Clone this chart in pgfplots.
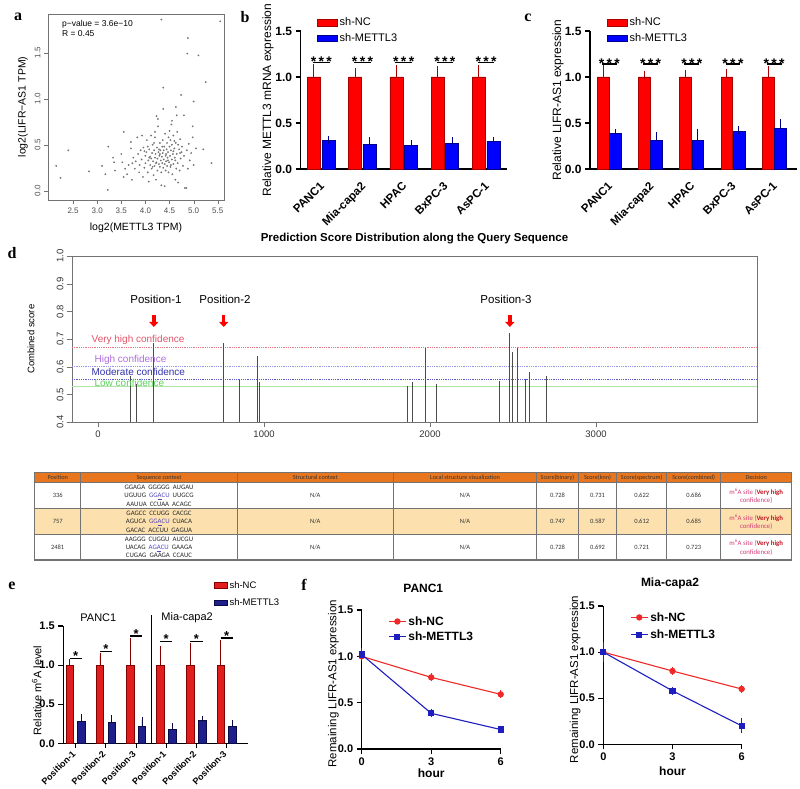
\documentclass[border=0pt]{standalone}
\usepackage{pgfplots}
\usepackage{pgfplotstable}
\pgfplotsset{compat=1.18}
\usepackage{fontspec}
\setmainfont{Liberation Sans}
\newfontfamily\serifbf{Liberation Serif}
\newfontfamily\calib{Carlito}
\usetikzlibrary{arrows.meta}
\newcommand{\fs}[1]{\fontsize{#1}{#1}\selectfont}
\definecolor{bred}{RGB}{255,0,0}
\definecolor{bredd}{RGB}{170,0,0}
\definecolor{bblue}{RGB}{0,0,255}
\definecolor{bblued}{RGB}{0,0,140}
\definecolor{ered}{RGB}{225,30,30}
\definecolor{eredd}{RGB}{130,0,0}
\definecolor{eblue}{RGB}{30,30,140}
\definecolor{ebluedd}{RGB}{10,10,70}
\definecolor{fred}{RGB}{240,40,40}
\definecolor{fblue}{RGB}{30,30,190}
\definecolor{vhc}{RGB}{225,85,105}
\definecolor{hcc}{RGB}{175,110,220}
\definecolor{mcc}{RGB}{50,50,170}
\definecolor{lcc}{RGB}{90,210,90}
\definecolor{vhl}{RGB}{230,120,130}
\definecolor{hcl}{RGB}{150,150,230}
\definecolor{mcl}{RGB}{90,90,200}
\definecolor{lcl}{RGB}{175,230,165}
\definecolor{torange}{RGB}{232,118,30}
\definecolor{tpeach}{RGB}{252,225,175}
\definecolor{seqblue}{RGB}{80,70,190}
\definecolor{dpink}{RGB}{210,60,120}
\definecolor{dred}{RGB}{190,20,30}

\pgfplotsset{
  every axis/.append style={/pgf/number format/assume math mode=true, scale only axis, anchor=south west},
  gp/.style={axis x line*=bottom, axis y line*=left, axis line style={line width=1.1pt,-},
    tick align=outside, major tick length=5pt, major tick style={line width=1.1pt, black},
    tick label style={font=\bfseries\fs{12}}, clip=false, legend cell align=left},
}

\pgfplotstableread{
x nc ncerr kd kderr
0 1.0 0.094 0.308 0.006
1 1.0 0.05 0.268 0.032
2 1.0 0.087 0.254 0.016
3 1.0 0.076 0.279 0.021
4 1.0 0.087 0.300 0.006
}\tabB
\pgfplotstableread{
x nc ncerr kd kderr
0 1.0 0.094 0.385 0.008
1 1.0 0.02 0.315 0.045
2 1.0 0.03 0.31 0.085
3 1.0 0.04 0.410 0.015
4 1.0 0.076 0.445 0.050
}\tabC
\pgfplotstableread{
x nc ncerr kd kderr
0 1 0.036 0.277 0.053
1 1 0.117 0.264 0.060
2 1 0.31 0.22 0.075
3 1 0.20 0.18 0.040
4 1 0.245 0.29 0.020
5 1 0.28 0.22 0.042
}\tabE
\pgfplotstableread{
pos score
193 0.567
234 0.537
336 0.686
757 0.685
849 0.552
962 0.640
973 0.547
1863 0.532
1896 0.544
1971 0.667
2038 0.537
2417 0.548
2481 0.723
2495 0.655
2528 0.668
2574 0.556
2598 0.583
2700 0.567
}\tabD

\begin{document}
\begin{tikzpicture}[x=1pt,y=1pt]
\path[use as bounding box] (0pt,0pt) rectangle (800pt,788pt);

% panel letters
\node[font=\serifbf\bfseries\fs{16}] at (18pt,771pt) {a};
\node[font=\serifbf\bfseries\fs{16}] at (245pt,771pt) {b};
\node[font=\serifbf\bfseries\fs{16}] at (528pt,770pt) {c};
\node[font=\serifbf\bfseries\fs{16}] at (12pt,535pt) {d};
\node[font=\serifbf\bfseries\fs{16}] at (12pt,202pt) {e};
\node[font=\serifbf\bfseries\fs{16}] at (304pt,203pt) {f};

% ---------------- a
\begin{axis}[at={(48pt,588pt)}, width=176pt, height=186pt,
  xmin=1.98, xmax=5.63, ymin=-0.10, ymax=1.92,
  axis line style={black!55},
  xtick={2.5,3,3.5,4,4.5,5,5.5}, xticklabels={2.5,3.0,3.5,4.0,4.5,5.0,5.5},
  ytick={0,0.5,1,1.5}, yticklabels={0.0,0.5,1.0,1.5},
  tick align=outside, xtick pos=bottom, ytick pos=left, major tick length=4pt,
  major tick style={black!55},
  yticklabel style={rotate=90, anchor=south},
  tick label style={font=\fs{8}, text=black!70},
  xlabel={log2(METTL3 TPM)}, ylabel={log2(LIFR−AS1 TPM)},
  label style={font=\fs{10.5}},
  xlabel style={at={(axis description cs:0.5,-0.15)}, anchor=center},
  ylabel style={at={(axis description cs:-0.142,0.5)}, anchor=center},
]
\addplot[only marks, mark=*, mark size=0.7pt, draw=black!55, fill=black!35] table {
2.15 0.27
2.24 0.14
2.40 0.44
2.83 0.21
3.10 0.27
3.17 0.18
3.22 0.01
3.23 0.48
3.33 0.36
3.35 0.31
3.37 0.22
3.50 0.40
3.52 0.31
3.55 0.64
3.55 0.15
3.58 0.24
3.62 0.18
3.65 0.28
3.70 0.53
3.70 0.46
3.72 0.12
3.73 0.30
3.75 0.36
3.78 0.24
3.80 0.32
3.83 0.58
3.85 0.40
3.87 0.20
3.88 0.28
3.90 0.44
3.92 0.34
3.93 0.60
3.95 0.15
3.96 0.47
3.98 0.25
3.98 0.43
4.00 0.38
4.00 0.30
4.02 0.42
4.03 0.55
4.05 0.20
4.05 0.48
4.06 0.33
4.07 0.10
4.08 0.45
4.08 0.36
4.10 0.28
4.10 0.37
4.12 0.60
4.12 0.35
4.13 0.24
4.14 0.41
4.15 0.50
4.15 0.26
4.16 0.32
4.17 0.17
4.18 0.44
4.18 0.52
4.19 0.27
4.20 0.36
4.20 0.58
4.20 0.64
4.21 0.40
4.22 0.12
4.22 0.30
4.23 0.31
4.23 0.81
4.24 0.47
4.25 0.22
4.25 0.35
4.26 0.70
4.26 0.78
4.27 0.42
4.28 0.29
4.28 0.45
4.29 0.38
4.30 0.52
4.30 0.26
4.30 0.40
4.31 0.44
4.32 0.33
4.33 0.06
4.33 0.20
4.33 1.86
4.34 0.37
4.35 0.30
4.35 0.48
4.36 0.55
4.36 0.41
4.37 0.25
4.37 0.89
4.37 1.12
4.38 0.34
4.38 0.44
4.39 0.48
4.40 0.29
4.40 0.05
4.41 0.62
4.42 0.38
4.42 0.22
4.43 0.32
4.43 0.40
4.44 0.45
4.45 0.52
4.45 0.27
4.46 0.36
4.47 0.42
4.47 0.33
4.48 0.58
4.48 0.20
4.49 0.31
4.50 0.48
4.50 0.65
4.51 0.38
4.52 0.55
4.52 0.26
4.53 0.44
4.53 0.28
4.54 0.72
4.55 0.34
4.55 0.50
4.55 0.76
4.56 0.18
4.57 0.40
4.58 0.60
4.58 0.29
4.58 0.43
4.60 0.46
4.60 0.54
4.61 0.36
4.62 0.12
4.62 0.33
4.63 0.52
4.63 0.91
4.64 0.24
4.65 0.40
4.65 0.82
4.66 0.64
4.67 0.30
4.68 0.09
4.68 0.50
4.70 0.45
4.71 0.22
4.72 0.56
4.72 0.41
4.73 0.35
4.74 1.04
4.75 0.42
4.76 0.48
4.78 0.27
4.80 0.38
4.80 0.82
4.82 0.03
4.85 0.03
4.86 0.44
4.87 1.49
4.88 0.24
4.88 1.66
4.90 0.51
4.92 0.33
4.95 0.41
4.98 0.58
4.98 0.70
5.00 0.28
5.00 0.97
5.05 0.46
5.10 1.47
5.20 0.45
5.25 1.18
5.37 0.30
5.55 1.84
};
\node[anchor=west, font=\fs{8.5}] at (axis description cs:0.06,0.946) {p−value = 3.6e−10};
\node[anchor=west, font=\fs{8.5}] at (axis description cs:0.06,0.895) {R = 0.45};
\end{axis}

% ---------------- b
\begin{axis}[gp, at={(300.7pt,619pt)}, width=206pt, height=138pt,
  xmin=-0.5, xmax=4.5, ymin=0, ymax=1.5,
  ytick={0,0.5,1,1.5}, yticklabels={0.0,0.5,1.0,1.5},
  xtick={0,...,4}, xticklabels={PANC1,Mia-capa2,HPAC,BxPC-3,AsPC-1},
  x tick style={draw=none},
  xticklabel style={rotate=45, anchor=north east, xshift=-3pt, font=\bfseries\fs{11.5}},
  ylabel={Relative METTL3 mRNA expression},
  ylabel style={at={(axis description cs:-0.159,0.5)}, anchor=center, font=\fs{12}},
  legend style={at={(0.078,1.11)}, anchor=north west, draw=none, fill=none, font=\fs{11}, row sep=2pt, inner sep=0pt, nodes={inner sep=2pt}},
  legend image code/.code={\draw[#1] (0pt,-3.3pt) rectangle (20pt,3.3pt);},
]
\addplot[ybar, bar width=13pt, bar shift=0pt, fill=bred, draw=bredd, line width=0.7pt,
  error bars/.cd, y dir=plus, y explicit, error bar style={line width=1pt, bredd},
  error mark options={mark size=4pt, line width=1pt, bredd}]
  table[x expr=\thisrow{x}-0.178, y=nc, y error=ncerr] {\tabB};
\addlegendentry{sh-NC}
\addplot[ybar, bar width=13pt, bar shift=0pt, fill=bblue, draw=bblued, line width=0.7pt,
  error bars/.cd, y dir=plus, y explicit, error bar style={line width=1pt, bblued},
  error mark options={mark size=4pt, line width=1pt, bblued}]
  table[x expr=\thisrow{x}+0.178, y=kd, y error=kderr] {\tabB};
\addlegendentry{sh-METTL3}
\addplot[black, line width=1.3pt, forget plot] coordinates {(-0.2,1.155) (0.2,1.155)};
\addplot[black, line width=1.3pt, forget plot] coordinates {(0.8,1.155) (1.2,1.155)};
\addplot[black, line width=1.3pt, forget plot] coordinates {(1.8,1.155) (2.2,1.155)};
\addplot[black, line width=1.3pt, forget plot] coordinates {(2.8,1.155) (3.2,1.155)};
\addplot[black, line width=1.3pt, forget plot] coordinates {(3.8,1.155) (4.2,1.155)};
\pgfplotsinvokeforeach{0,1,2,3,4}{\node[font=\bfseries\fs{14}, anchor=base] at (axis cs:#1,1.11) {*\,*\,*};}
\end{axis}

% ---------------- c
\begin{axis}[gp, at={(590pt,619pt)}, width=206.8pt, height=138pt,
  xmin=-0.47, xmax=4.55, ymin=0, ymax=1.5,
  ytick={0,0.5,1,1.5}, yticklabels={0.0,0.5,1.0,1.5},
  xtick={0,...,4}, xticklabels={PANC1,Mia-capa2,HPAC,BxPC-3,AsPC-1},
  x tick style={draw=none},
  xticklabel style={rotate=45, anchor=north east, xshift=-3pt, font=\bfseries\fs{11.5}},
  ylabel={Relative LIFR-AS1 expression},
  ylabel style={at={(axis description cs:-0.155,0.5)}, anchor=center, font=\fs{12}},
  legend style={at={(0.081,1.11)}, anchor=north west, draw=none, fill=none, font=\fs{11}, row sep=2pt, inner sep=0pt, nodes={inner sep=2pt}},
  legend image code/.code={\draw[#1] (0pt,-3.3pt) rectangle (20pt,3.3pt);},
]
\addplot[ybar, bar width=11.8pt, bar shift=0pt, fill=bred, draw=bredd, line width=0.7pt,
  error bars/.cd, y dir=plus, y explicit, error bar style={line width=1pt, bredd},
  error mark options={mark size=4pt, line width=1pt, bredd}]
  table[x expr=\thisrow{x}-0.146, y=nc, y error=ncerr] {\tabC};
\addlegendentry{sh-NC}
\addplot[ybar, bar width=11.8pt, bar shift=0pt, fill=bblue, draw=bblued, line width=0.7pt,
  error bars/.cd, y dir=plus, y explicit, error bar style={line width=1pt, bblued},
  error mark options={mark size=4pt, line width=1pt, bblued}]
  table[x expr=\thisrow{x}+0.146, y=kd, y error=kderr] {\tabC};
\addlegendentry{sh-METTL3}
\addplot[black, line width=1.3pt, forget plot] coordinates {(-0.18,1.14) (0.18,1.14)};
\addplot[black, line width=1.3pt, forget plot] coordinates {(0.82,1.14) (1.18,1.14)};
\addplot[black, line width=1.3pt, forget plot] coordinates {(1.82,1.14) (2.18,1.14)};
\addplot[black, line width=1.3pt, forget plot] coordinates {(2.82,1.14) (3.18,1.14)};
\addplot[black, line width=1.3pt, forget plot] coordinates {(3.82,1.14) (4.18,1.14)};
\pgfplotsinvokeforeach{0,1,2,3,4}{\node[font=\bfseries\fs{14}, anchor=base] at (axis cs:#1,1.095) {*\,*\,*};}
\end{axis}

% ---------------- d
\begin{axis}[at={(72pt,365.7pt)}, width=685pt, height=166.3pt,
  xmin=-157, xmax=3970, ymin=0.4, ymax=1.0,
  axis line style={black!55, line width=0.8pt},
  tick align=outside, xtick pos=bottom, ytick pos=left, major tick length=5pt,
  major tick style={black!55},
  xtick={0,1000,2000,3000}, xticklabels={0,1000,2000,3000},
  ytick={0.4,0.5,0.6,0.7,0.8,0.9,1.0}, yticklabels={0.4,0.5,0.6,0.7,0.8,0.9,1.0},
  yticklabel style={rotate=90, anchor=south},
  tick label style={font=\fs{9.5}, text=black!80},
  ylabel={Combined score}, ylabel style={at={(axis description cs:-0.06,0.5)}, anchor=center, font=\fs{9.5}},
  title={\bfseries Prediction Score Distribution along the Query Sequence},
  title style={font=\fs{11.5}, at={(axis description cs:0.5,1.066)}, anchor=center},
]
\addplot[vhl, line width=0.8pt, densely dotted] coordinates {(-157,0.671) (3970,0.671)};
\addplot[hcl, line width=0.8pt, densely dotted] coordinates {(-157,0.600) (3970,0.600)};
\addplot[mcl, line width=0.8pt, densely dotted] coordinates {(-157,0.556) (3970,0.556)};
\addplot[lcl, line width=1pt] coordinates {(-157,0.529) (3970,0.529)};
\addplot[ycomb, black!70, line width=0.9pt] table[x=pos, y=score] {\tabD};
\node[anchor=west, text=vhc, font=\fs{10}] at (axis cs:-60,0.697) {Very high confidence};
\node[anchor=west, text=hcc, font=\fs{10}] at (axis cs:-42,0.625) {High confidence};
\node[anchor=west, text=mcc, font=\fs{10}] at (axis cs:-60,0.583) {Moderate confidence};
\node[anchor=west, text=lcc, font=\fs{10}] at (axis cs:-42,0.543) {Low confidence};
\node[font=\fs{11.5}] at (axis cs:349,0.845) {Position-1};
\node[font=\fs{11.5}] at (axis cs:765,0.845) {Position-2};
\node[font=\fs{11.5}] at (axis cs:2458,0.845) {Position-3};
\draw[red, line width=3.5pt, -{Triangle[width=9pt,length=5pt]}] (axis cs:336,0.786) -- (axis cs:336,0.744);
\draw[red, line width=3.5pt, -{Triangle[width=9pt,length=5pt]}] (axis cs:757,0.786) -- (axis cs:757,0.744);
\draw[red, line width=3.5pt, -{Triangle[width=9pt,length=5pt]}] (axis cs:2481,0.786) -- (axis cs:2481,0.744);
\end{axis}

% ---------------- table
\fill[torange] (34.7pt,305.3pt) rectangle (791.7pt,315.3pt);
\fill[tpeach] (34.7pt,253.3pt) rectangle (791.7pt,279.3pt);
\foreach \yy in {305.3,279.3,253.3} \draw[black!55, line width=0.7pt] (34.7pt,\yy pt) -- (791.7pt,\yy pt);
\draw[black!55, line width=1.2pt] (34.7pt,228pt) rectangle (791.7pt,315.3pt);
\foreach \xx in {80.7,237.3,393.3,536.7,578.3,616.7,666.7,720.7} \draw[black!55, line width=1.2pt] (\xx pt,228pt) -- (\xx pt,315.3pt);
\begin{scope}[every node/.style={font=\calib\fs{6.2}, text=black!80}]
\node at (57.7pt,310.3pt) {Position};
\node at (159pt,310.3pt) {Sequence context};
\node at (315.3pt,310.3pt) {Structural context};
\node at (465pt,310.3pt) {Local structure visualization};
\node at (557.5pt,310.3pt) {Score(binary)};
\node at (597.5pt,310.3pt) {Score(knn)};
\node at (641.7pt,310.3pt) {Score(spectrum)};
\node at (693.7pt,310.3pt) {Score(combined)};
\node at (756.2pt,310.3pt) {Decision};
\end{scope}
\begin{scope}[every node/.style={font=\calib\fs{6.5}, text=black!80}]
\node at (57.7pt,292.3pt) {336};
\node at (57.7pt,266.3pt) {757};
\node at (57.7pt,240.7pt) {2481};
\foreach \yy in {292.3,266.3,240.7} {
  \node at (315.3pt,\yy pt) {N/A};
  \node at (465pt,\yy pt) {N/A};
}
\node at (557.5pt,292.3pt) {0.728}; \node at (597.5pt,292.3pt) {0.731}; \node at (641.7pt,292.3pt) {0.622}; \node at (693.7pt,292.3pt) {0.686};
\node at (557.5pt,266.3pt) {0.747}; \node at (597.5pt,266.3pt) {0.587}; \node at (641.7pt,266.3pt) {0.612}; \node at (693.7pt,266.3pt) {0.685};
\node at (557.5pt,240.7pt) {0.728}; \node at (597.5pt,240.7pt) {0.692}; \node at (641.7pt,240.7pt) {0.721}; \node at (693.7pt,240.7pt) {0.723};
\end{scope}
\begin{scope}[every node/.style={font=\calib\fontsize{6.8}{8.3}\selectfont, text=black!85, align=center, inner sep=0pt}]
\node at (159pt,292.3pt) {GGAGA\ \ GGGGG\ \ AUGAU\\UGUUG\ \ \textcolor{seqblue}{GG\underline{A}CU}\ \ UUGCG\\AAUUA\ \ CCUAA\ \ ACAGC};
\node at (159pt,266.3pt) {GAGCC\ \ CCUGG\ \ CACGC\\AGUCA\ \ \textcolor{seqblue}{GG\underline{A}CU}\ \ CUACA\\GACAC\ \ ACCUU\ \ GAGUA};
\node at (159pt,240.7pt) {AAGGG\ \ CUGGU\ \ AUCGU\\UACAG\ \ \textcolor{seqblue}{AG\underline{A}CU}\ \ GAAGA\\CUGAG\ \ GAAGA\ \ CCAUC};
\end{scope}
\begin{scope}[every node/.style={font=\calib\fontsize{6.8}{8.5}\selectfont, text=dpink, align=center, inner sep=0pt}]
\foreach \yy in {292.3,266.3,240.7}
  \node at (756.2pt,\yy pt) {m\textsuperscript{6}A site (\textcolor{dred}{\bfseries Very high}\\confidence)};
\end{scope}

% ---------------- e
\begin{axis}[gp, at={(63.3pt,44.7pt)}, width=184.5pt, height=117.3pt,
  xmin=-0.41, xmax=5.7, ymin=0, ymax=1.5,
  ytick={0,0.5,1,1.5}, yticklabels={0.0,0.5,1.0,1.5},
  tick label style={font=\bfseries\fs{11}},
  xtick={0,...,5}, xticklabels={Position-1,Position-2,Position-3,Position-1,Position-2,Position-3},
  xticklabel style={rotate=45, anchor=north east, xshift=-3pt, yshift=3pt, inner sep=1pt, font=\bfseries\fs{9}},
  ylabel={Relative m\textsuperscript{6}A level},
  ylabel style={at={(axis description cs:-0.144,0.45)}, anchor=center, font=\fs{11}},
  legend style={at={(0.813,1.40)}, anchor=north west, draw=none, fill=none, font=\fs{9.5}, row sep=5pt, inner sep=0pt, nodes={inner sep=2pt}},
  legend image code/.code={\draw[#1] (0pt,-2.7pt) rectangle (13.3pt,2.7pt);},
]
\addplot[ybar, bar width=7.5pt, bar shift=0pt, fill=ered, draw=eredd, line width=0.7pt,
  error bars/.cd, y dir=plus, y explicit, error bar style={line width=0.9pt, eredd},
  error mark options={mark size=3pt, line width=0.9pt, eredd}]
  table[x expr=\thisrow{x}-0.195, y=nc, y error=ncerr] {\tabE};
\addlegendentry{sh-NC}
\addplot[ybar, bar width=7.5pt, bar shift=0pt, fill=eblue, draw=ebluedd, line width=0.7pt,
  error bars/.cd, y dir=plus, y explicit, error bar style={line width=0.9pt, ebluedd},
  error mark options={mark size=3pt, line width=0.9pt, ebluedd}]
  table[x expr=\thisrow{x}+0.195, y=kd, y error=kderr] {\tabE};
\addlegendentry{sh-METTL3}
\addplot[black, line width=1.2pt, forget plot] coordinates {(-0.2,1.083) (0.2,1.083)};
\addplot[black, line width=1.2pt, forget plot] coordinates {(0.8,1.172) (1.2,1.172)};
\addplot[black, line width=1.2pt, forget plot] coordinates {(1.8,1.372) (2.2,1.372)};
\addplot[black, line width=1.2pt, forget plot] coordinates {(2.8,1.30) (3.2,1.30)};
\addplot[black, line width=1.2pt, forget plot] coordinates {(3.8,1.30) (4.2,1.30)};
\addplot[black, line width=1.2pt, forget plot] coordinates {(4.8,1.347) (5.2,1.347)};
\addplot[black, line width=1.1pt, forget plot] coordinates {(2.5,0) (2.5,1.64)};
\node[font=\bfseries\fs{13}, anchor=base] at (axis cs:0,1.057) {*};
\node[font=\bfseries\fs{13}, anchor=base] at (axis cs:1,1.146) {*};
\node[font=\bfseries\fs{13}, anchor=base] at (axis cs:2,1.346) {*};
\node[font=\bfseries\fs{13}, anchor=base] at (axis cs:3,1.274) {*};
\node[font=\bfseries\fs{13}, anchor=base] at (axis cs:4,1.274) {*};
\node[font=\bfseries\fs{13}, anchor=base] at (axis cs:5,1.321) {*};
\node[font=\fs{11}] at (axis cs:0.75,1.61) {PANC1};
\node[font=\fs{11}] at (axis cs:3.69,1.61) {Mia-capa2};
\end{axis}

% ---------------- f left
\begin{axis}[gp, at={(361.7pt,39pt)}, width=139pt, height=139pt,
  xmin=0, xmax=6, ymin=0, ymax=1.5,
  xtick={0,3,6}, ytick={0,0.5,1,1.5}, yticklabels={0.0,0.5,1.0,1.5},
  tick label style={font=\bfseries\fs{11}},
  xlabel={\bfseries hour}, xlabel style={font=\fs{12}, at={(axis description cs:0.5,-0.175)}, anchor=center},
  ylabel={Remaining LIFR-AS1 expression},
  ylabel style={at={(axis description cs:-0.204,0.47)}, anchor=center, font=\fs{11.5}},
  title={\bfseries PANC1}, title style={font=\fs{12}, at={(axis description cs:0.443,1.113)}, anchor=center},
  legend style={at={(0.19,0.97)}, anchor=north west, draw=none, fill=none, font=\bfseries\fs{12}, row sep=1pt, inner sep=0pt, nodes={inner sep=2pt}},
  legend image code/.code={\draw[#1, mark=none] (0pt,0pt) -- (17pt,0pt); \draw[#1, only marks] plot coordinates {(8.5pt,0pt)};},
]
\addplot[fred, line width=1.1pt, mark=*, mark size=2.6pt, mark options={fill=fred},
  error bars/.cd, y dir=both, y explicit, error bar style={line width=1pt}, error mark options={mark size=3pt, line width=1pt}]
  coordinates {(0,1.0) +- (0,0.02) (3,0.773) +- (0,0.01) (6,0.59) +- (0,0.01)};
\addlegendentry{sh-NC}
\addplot[fblue, line width=1.1pt, mark=square*, mark size=2.5pt, mark options={fill=fblue},
  error bars/.cd, y dir=both, y explicit, error bar style={line width=1pt}, error mark options={mark size=3pt, line width=1pt}]
  coordinates {(0,1.02) +- (0,0.04) (3,0.385) +- (0,0.01) (6,0.21) +- (0,0.01)};
\addlegendentry{sh-METTL3}
\end{axis}

% ---------------- f right
\begin{axis}[gp, at={(603.3pt,43.7pt)}, width=138.4pt, height=138.3pt,
  xmin=0, xmax=6, ymin=0, ymax=1.5,
  xtick={0,3,6}, ytick={0,0.5,1,1.5}, yticklabels={0.0,0.5,1.0,1.5},
  tick label style={font=\bfseries\fs{11}},
  xlabel={\bfseries hour}, xlabel style={font=\fs{12}, at={(axis description cs:0.5,-0.198)}, anchor=center},
  ylabel={Remaining LIFR-AS1 expression},
  ylabel style={at={(axis description cs:-0.204,0.47)}, anchor=center, font=\fs{11.5}},
  title={\bfseries Mia-capa2}, title style={font=\fs{12}, at={(axis description cs:0.482,1.123)}, anchor=center},
  legend style={at={(0.193,0.97)}, anchor=north west, draw=none, fill=none, font=\bfseries\fs{12}, row sep=3pt, inner sep=0pt, nodes={inner sep=2pt}},
  legend image code/.code={\draw[#1, mark=none] (0pt,0pt) -- (17pt,0pt); \draw[#1, only marks] plot coordinates {(8.5pt,0pt)};},
]
\addplot[fred, line width=1.1pt, mark=*, mark size=2.6pt, mark options={fill=fred},
  error bars/.cd, y dir=both, y explicit, error bar style={line width=1pt}, error mark options={mark size=3pt, line width=1pt}]
  coordinates {(0,1.0) +- (0,0.02) (3,0.795) +- (0,0.01) (6,0.60) +- (0,0.01)};
\addlegendentry{sh-NC}
\addplot[fblue, line width=1.1pt, mark=square*, mark size=2.5pt, mark options={fill=fblue},
  error bars/.cd, y dir=both, y explicit, error bar style={line width=1pt}, error mark options={mark size=3pt, line width=1pt}]
  coordinates {(0,1.0) +- (0,0.08) (3,0.58) +- (0,0.01) (6,0.20) +- (0,0.05)};
\addlegendentry{sh-METTL3}
\end{axis}
\end{tikzpicture}
\end{document}
